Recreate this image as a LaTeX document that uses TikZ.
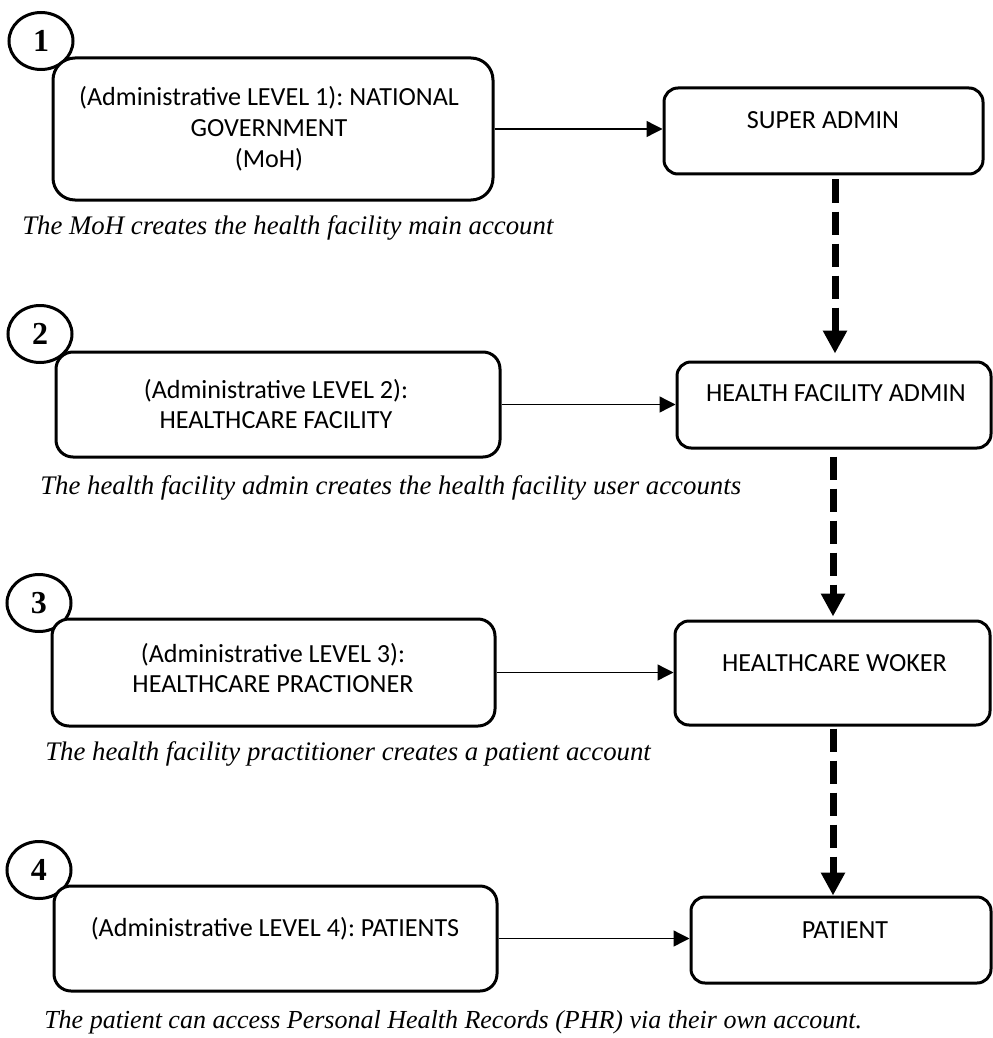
\documentclass[tikz,border=0pt]{standalone}
\usepackage{fontspec}
\setmainfont{Liberation Serif}
\newfontfamily\boxfont{Carlito}
\usetikzlibrary{arrows.meta,shapes.geometric}
\newdimen\px \px=0.75pt

\begin{document}
\frenchspacing
\begin{tikzpicture}[x=0.75pt,y=-0.75pt,
  stepnum/.style={ellipse, draw, line width=2.25pt, fill=white, inner sep=0pt,
    minimum width=64\px, minimum height=57\px,
    font=\bfseries\fontsize{24}{24}\selectfont},
  levelbox/.style={draw, line width=2.25pt, fill=white, inner sep=0pt,
    rounded corners=17\px},
  rolebox/.style={draw, line width=2.25pt, fill=white, inner sep=0pt,
    rounded corners=14\px, minimum height=86\px},
  boxtext/.style={font=\boxfont\fontsize{19.6}{23.2}\selectfont, align=center, inner sep=0pt},
  caption/.style={font=\itshape\fontsize{20.1}{24}\selectfont, anchor=base west, inner sep=0pt},
  flow/.style={line width=1pt, -{Triangle[length=12pt, width=12pt]}},
  handoff/.style={line width=5.25pt, dash pattern=on 17.25pt off 6.75pt,
    -{Triangle[length=17.25pt, width=17.25pt]}},
]
\useasboundingbox (0,0) rectangle (992,1038);

% step numbers (drawn first so the level boxes sit on top of them)
\node[stepnum] (n1) at (41,41) {1};
\node[stepnum] (n2) at (40,334) {2};
\node[stepnum] (n3) at (39,603) {3};
\node[stepnum] (n4) at (39,870) {4};

% administrative levels
\node[levelbox, rounded corners=22\px, minimum width=440\px, minimum height=142\px] (lvl1) at (273,129) {};
\node[levelbox, minimum width=444\px, minimum height=105\px] (lvl2) at (278,404.5) {};
\node[levelbox, minimum width=443\px, minimum height=107\px] (lvl3) at (273.5,672.5) {};
\node[levelbox, minimum width=443\px, minimum height=105\px] (lvl4) at (275.5,938.5) {};

\node[boxtext] (lvl1t) at (269,129) {(Administrative LEVEL 1): NATIONAL\\GOVERNMENT\\(MoH)};
\node[boxtext] (lvl2t) at (276,404) {(Administrative LEVEL 2):\\HEALTHCARE FACILITY};
\node[boxtext] (lvl3t) at (273,668) {(Administrative LEVEL 3):\\HEALTHCARE PRACTIONER};
\node[boxtext] (lvl4t) at (275,929) {(Administrative LEVEL 4): PATIENTS};

% account roles
\node[rolebox, minimum width=319\px] (r1) at (823.5,131) {};
\node[rolebox, minimum width=314\px] (r2) at (834,405) {};
\node[rolebox, minimum width=315\px, minimum height=104\px] (r3) at (832.5,673) {};
\node[rolebox, minimum width=300\px] (r4) at (841,940) {};

\node[boxtext] (r1t) at (823,120) {SUPER ADMIN};
\node[boxtext] (r2t) at (836,393) {HEALTH FACILITY ADMIN};
\node[boxtext] (r3t) at (834.5,663) {HEALTHCARE WOKER};
\node[boxtext] (r4t) at (845,930) {PATIENT};

% captions
\node[caption] (c1) at (22,234) {The MoH creates the health facility main account};
\node[caption] (c2) at (40,494) {The health facility admin creates the health facility user accounts};
\node[caption] (c3) at (45,760) {The health facility practitioner creates a patient account};
\node[caption, font=\itshape\fontsize{19.5}{24}\selectfont] (c4) at (44,1028) {The patient can access Personal Health Records (PHR) via their own account.};

% level -> role
\draw[flow] (lvl1.east) -- (r1.west |- lvl1.east);
\draw[flow] (lvl2.east) -- (r2.west |- lvl2.east);
\draw[flow] (lvl3.east) -- (r3.west |- lvl3.east);
\draw[flow] (lvl4.east) -- (r4.west |- lvl4.east);

% role -> role hand-offs
\coordinate (d1) at (835,0);
\coordinate (d2) at (833,0);
\coordinate (d3) at (833,0);
\draw[handoff, shorten <=4\px, shorten >=7\px] (r1.south -| d1) -- (r2.north -| d1);
\draw[handoff, shorten <=7\px, shorten >=3\px] (r2.south -| d2) -- (r3.north -| d2);
\draw[handoff, shorten <=2\px] (r3.south -| d3) -- (r4.north -| d3);
\end{tikzpicture}
\end{document}
